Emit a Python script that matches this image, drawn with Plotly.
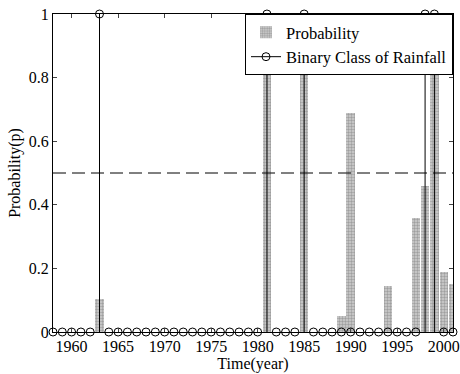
import plotly.graph_objects as go

years = list(range(1958, 2002))
probability = [0, 0, 0, 0, 0, 0.105, 0, 0, 0, 0, 0, 0, 0, 0, 0, 0, 0, 0, 0, 0, 0, 0, 0,
               1.0, 0, 0, 0, 0.95, 0, 0, 0, 0.05, 0.69, 0, 0, 0, 0.145, 0, 0, 0.36, 0.46,
               0.93, 0.19, 0.15]
binary_class = [0, 0, 0, 0, 0, 1, 0, 0, 0, 0, 0, 0, 0, 0, 0, 0, 0, 0, 0, 0, 0, 0, 0,
                1, 0, 0, 0, 1, 0, 0, 0, 0, 0, 0, 0, 0, 0, 0, 0, 0, 1, 1, 0, 0]
threshold = 0.5
x_ticks = [1960, 1965, 1970, 1975, 1980, 1985, 1990, 1995, 2000]
y_ticks = [0, 0.2, 0.4, 0.6, 0.8, 1]
y_tick_labels = ["0", "0.2", "0.4", "0.6", "0.8", "1"]

FONT = "Liberation Serif"

fig = go.Figure()

fig.add_trace(go.Bar(
    x=years, y=probability, width=0.9, name="Probability",
    marker=dict(color="#c8c8c8", line=dict(width=0),
                pattern=dict(shape=".", fgcolor="#6e6e6e", bgcolor="#d0d0d0", size=3, solidity=0.5)),
))

# stems built from the binary class data
sx, sy = [], []
for yr, v in zip(years, binary_class):
    if v != 0:
        sx += [yr, yr, None]
        sy += [0, v, None]
fig.add_trace(go.Scatter(x=sx, y=sy, mode="lines", line=dict(color="black", width=1),
                         showlegend=False, hoverinfo="skip", legendgroup="b"))
fig.add_trace(go.Scatter(x=years, y=binary_class, mode="markers", cliponaxis=False,
                         marker=dict(symbol="circle-open", size=8, color="black", line=dict(width=1)),
                         showlegend=False, legendgroup="b"))
fig.add_trace(go.Scatter(x=[None], y=[None], mode="lines+markers", name="Binary Class of Rainfall",
                         line=dict(color="black", width=1),
                         marker=dict(symbol="circle-open", size=8, color="black", line=dict(width=1)),
                         legendgroup="b"))

fig.add_hline(y=threshold, line=dict(color="black", width=1, dash="13px,6px"))

fig.update_layout(
    width=460, height=374,
    margin=dict(l=53, r=7, t=14, b=42, autoexpand=False),
    paper_bgcolor="white", plot_bgcolor="white",
    font=dict(family=FONT, size=16, color="black"),
    bargap=0, barmode="overlay",
    legend=dict(x=1, y=1, xanchor="right", yanchor="top", bgcolor="white",
                bordercolor="black", borderwidth=1, font=dict(family=FONT, size=16.5),
                tracegroupgap=0, itemwidth=30),
    showlegend=True,
)
fig.update_xaxes(range=[1958, 2001], tickvals=x_ticks, ticks="inside", ticklen=4,
                 showline=True, linecolor="black", linewidth=1, mirror="ticks",
                 showgrid=False, zeroline=False, automargin=False,
                 title=dict(text="Time(year)", standoff=0, font=dict(family=FONT, size=16)),
                 tickfont=dict(family=FONT, size=16))
fig.update_yaxes(range=[0, 1], tickvals=y_ticks, ticktext=y_tick_labels, ticks="inside", ticklen=4,
                 showline=True, linecolor="black", linewidth=1, mirror="ticks",
                 showgrid=False, zeroline=False, automargin=False,
                 title=dict(text="Probability(p)", standoff=4, font=dict(family=FONT, size=16)),
                 tickfont=dict(family=FONT, size=16))

fig.write_html("out.html", config={"displayModeBar": False},
               post_script="document.body.style.margin='0';")
